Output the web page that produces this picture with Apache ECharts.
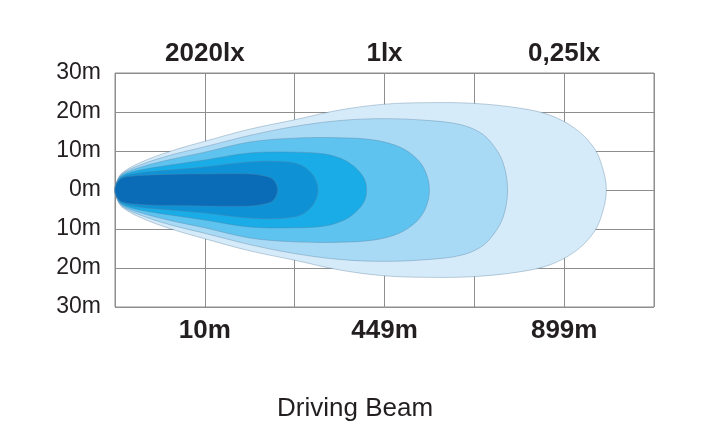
<!DOCTYPE html>
<html>
<head>
<meta charset="utf-8">
<script src="https://cdn.jsdelivr.net/npm/echarts@6/dist/echarts.min.js"></script>
<style>
html,body{margin:0;padding:0;background:#fff;}
#chart{width:725px;height:441px;}
</style>
</head>
<body>
<div id="chart"></div>
<script>
// Axis tick labels
const yTicks = [-30, -20, -10, 0, 10, 20, 30];
const bottomLabels = {1: '10m', 3: '449m', 5: '899m'};
const topLabels = {1: '2020lx', 3: '1lx', 5: '0,25lx'};
const titleText = 'Driving Beam';

// Beam contours: x in grid columns (0..6), half-width in metres
const layerColors = ['#d6ebf9', '#a8d9f5', '#5ec3ef', '#19ace7', '#0e92d5', '#0a6bb6'];

const l1X = [0, 0.02, 0.08, 0.278, 0.612, 1.0, 1.5, 2.0, 2.5, 3.0, 3.5, 4.0, 4.5, 4.84, 5.12, 5.31, 5.41, 5.47];
const l1H = [0, 2.2, 4.4, 7.0, 9.9, 12.5, 15.6, 18.0, 20.5, 22.0, 22.4, 22.2, 21.0, 19.2, 15.8, 11.5, 7.0, 0];

const l2X = [0, 0.02, 0.08, 0.278, 0.612, 1.0, 1.5, 2.0, 2.5, 3.0, 3.5, 3.84, 4.06, 4.2, 4.32, 4.37];
const l2H = [0, 2.1, 4.2, 6.4, 8.9, 11.1, 14.0, 16.3, 17.8, 18.3, 17.8, 16.8, 14.8, 11.8, 7.0, 0];

const l3X = [0, 0.02, 0.08, 0.278, 0.612, 1.0, 1.5, 2.0, 2.5, 2.89, 3.17, 3.36, 3.46, 3.5];
const l3H = [0, 2.0, 4.0, 5.8, 7.8, 9.7, 12.3, 13.3, 13.4, 12.8, 11.0, 8.0, 4.5, 0];

const l4X = [0, 0.02, 0.08, 0.278, 0.612, 1.0, 1.5, 2.0, 2.34, 2.56, 2.70, 2.78, 2.80];
const l4H = [0, 1.9, 3.7, 5.1, 6.4, 7.7, 9.5, 9.7, 9.2, 7.6, 5.2, 2.6, 0];

const l5X = [0, 0.02, 0.08, 0.278, 0.612, 1.0, 1.5, 1.84, 2.06, 2.18, 2.24, 2.26];
const l5H = [0, 1.8, 3.4, 4.4, 5.1, 5.9, 7.2, 7.3, 6.5, 4.5, 2.2, 0];

const l6X = [0, 0.02, 0.08, 0.278, 0.612, 1.0, 1.5, 1.66, 1.76, 1.81];
const l6H = [0, 1.7, 3.1, 3.7, 4.0, 4.1, 4.1, 3.6, 2.7, 0];

const layers = [[l1X, l1H], [l2X, l2H], [l3X, l3H], [l4X, l4H], [l5X, l5H], [l6X, l6H]];

const chart = echarts.init(document.getElementById('chart'), null, {renderer: 'canvas'});
const font = '"Liberation Sans", Arial, Helvetica, sans-serif';

function makeSeries(idx) {
  const xs = layers[idx][0], hs = layers[idx][1];
  return {
    type: 'custom',
    coordinateSystem: 'cartesian2d',
    xAxisIndex: 0, yAxisIndex: 0,
    silent: true,
    z: 2 + idx,
    data: [[0, 0]],
    renderItem: function (params, api) {
      const pts = [];
      for (let i = 0; i < xs.length; i++) pts.push(api.coord([xs[i], hs[i]]));
      for (let i = xs.length - 2; i >= 1; i--) pts.push(api.coord([xs[i], -hs[i]]));
      return {
        type: 'polygon',
        shape: {points: pts, smooth: 0.35},
        style: {fill: layerColors[idx], stroke: 'rgba(90,130,160,0.55)', lineWidth: 0.7}
      };
    }
  };
}

const grid = {left: 115, right: 71, top: 73, bottom: 134, show: true, borderColor: '#8e8e8e', borderWidth: 1, backgroundColor: 'transparent'};

const option = {
  backgroundColor: '#ffffff',
  animation: false,
  grid: grid,
  xAxis: [
    {
      type: 'value', min: 0, max: 6, interval: 1, position: 'bottom',
      axisLine: {show: false}, axisTick: {show: false},
      splitLine: {show: true, lineStyle: {color: '#8e8e8e', width: 1}},
      axisLabel: {
        show: true, margin: 11, color: '#231f20', fontFamily: font, fontWeight: 'bold', fontSize: 26,
        formatter: function (v) { return bottomLabels[v] || ''; }
      }
    },
    {
      type: 'value', min: 0, max: 6, interval: 1, position: 'top',
      axisLine: {show: false}, axisTick: {show: false}, splitLine: {show: false},
      axisLabel: {
        show: true, margin: 6, color: '#231f20', fontFamily: font, fontWeight: 'bold', fontSize: 26,
        formatter: function (v) { return topLabels[v] || ''; }
      }
    }
  ],
  yAxis: {
    type: 'value', min: yTicks[0], max: yTicks[yTicks.length - 1], interval: 10,
    axisLine: {show: false}, axisTick: {show: false},
    splitLine: {show: true, lineStyle: {color: '#8e8e8e', width: 1}},
    axisLabel: {
      margin: 14, color: '#231f20', fontFamily: font, fontSize: 23,
      formatter: function (v) { return Math.abs(v) + 'm'; }
    }
  },
  graphic: [{
    type: 'text', left: 277, top: 396,
    style: {text: titleText, fill: '#231f20', font: '26px ' + font}
  }],
  series: layers.map(function (_, i) { return makeSeries(i); })
};
chart.setOption(option);
</script>
</body>
</html>
